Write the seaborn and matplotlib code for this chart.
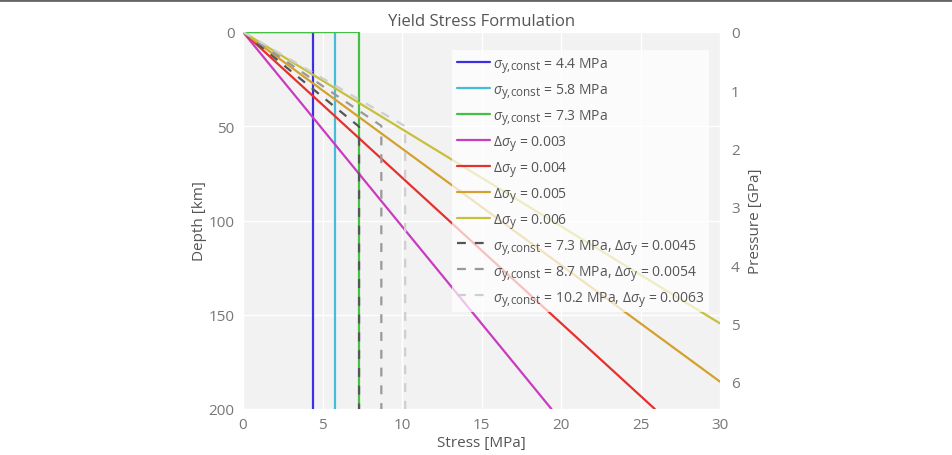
import matplotlib.pyplot as plt
from matplotlib.lines import Line2D
import matplotlib._mathtext as mt
import seaborn as sns

# constant yield stress [MPa]
const_labels = ["4.4", "5.8", "7.3"]
const_stress = [[0, 4.4, 4.4], [0, 5.8, 5.8], [0, 7.3, 7.3]]
const_depth = [[0, 0, 200], [0, 0, 200], [0, 0, 200]]

# pressure dependent yield stress
delta_labels = ["0.003", "0.004", "0.005", "0.006"]
delta_stress = [[0, 19.4], [0, 25.9], [0, 30], [0, 30]]
delta_depth = [[0, 200], [0, 200], [0, 185.5], [0, 154.6]]

# combined (capped) yield stress
comb_labels = [("7.3", "0.0045"), ("8.7", "0.0054"), ("10.2", "0.0063")]
comb_stress = [[0, 7.3, 7.3], [0, 8.7, 8.7], [0, 10.2, 10.2]]
comb_depth = [[0, 50.2, 200], [0, 49.8, 200], [0, 50.0, 200]]

pressure_max = 6.47  # GPa at 200 km
pressure_ticks = [0, 1, 2, 3, 4, 5, 6]

const_colors = ["#3d2fe0", "#45bcd8", "#44c044"]
delta_colors = ["#c93cc0", "#e5302e", "#d4a02e", "#c6c03c"]
comb_colors = ["#555555", "#999999", "#cfcfcf"]

# plotly-like subscripts are nearly full size
mt.SHRINK_FACTOR = 0.85

sns.set_theme(style="white")
plt.rcParams["font.family"] = ["Open Sans", "DejaVu Sans"]
plt.rcParams["mathtext.fontset"] = "custom"
plt.rcParams["mathtext.rm"] = "Open Sans"
plt.rcParams["mathtext.it"] = "Open Sans:italic"
plt.rcParams["mathtext.sf"] = "Open Sans"

txt = "#555555"
fig = plt.figure(figsize=(9.52, 4.56), dpi=100)
ax = fig.add_axes([243 / 952, 1 - 410 / 456, 477 / 952, 377 / 456])
ax.set_facecolor("#f2f2f2")

sig = r"$\sigma_{\mathrm{y{,}const}}$"
dsig = r"$\Delta\sigma_{\mathrm{y}}$"

for s, d, lab, c in zip(const_stress, const_depth, const_labels, const_colors):
    sns.lineplot(x=s, y=d, ax=ax, estimator=None, sort=False, color=c, lw=1.6,
                 label=f"{sig} = {lab} MPa")
for s, d, lab, c in zip(delta_stress, delta_depth, delta_labels, delta_colors):
    sns.lineplot(x=s, y=d, ax=ax, estimator=None, sort=False, color=c, lw=1.6,
                 label=f"{dsig} = {lab}")
for s, d, (a, b), c in zip(comb_stress, comb_depth, comb_labels, comb_colors):
    sns.lineplot(x=s, y=d, ax=ax, estimator=None, sort=False, color=c, lw=1.6,
                 linestyle=(0, (4, 4)), label=f"{sig} = {a} MPa, {dsig} = {b}")

ax.set_xlim(0, 30)
ax.set_ylim(200, 0)
ax.set_xticks([0, 5, 10, 15, 20, 25, 30])
ax.set_yticks([0, 50, 100, 150, 200])
ax.grid(True, color="white", lw=1)
ax.set_axisbelow(True)
for sp in ax.spines.values():
    sp.set_visible(False)
ax.tick_params(length=0, labelsize=11, labelcolor="#777777", pad=6)
ax.set_xlabel("Stress [MPa]", fontsize=11, color=txt, labelpad=2)
ax.set_ylabel("Depth [km]", fontsize=11, color=txt, labelpad=1)
ax.set_title("Yield Stress Formulation", fontsize=12, color=txt, pad=5)

ax2 = ax.twinx()
ax2.set_ylim(pressure_max, 0)
ax2.set_yticks(pressure_ticks)
for sp in ax2.spines.values():
    sp.set_visible(False)
ax2.tick_params(length=0, labelsize=11, labelcolor="#777777", pad=8)
ax2.set_ylabel("Pressure [GPa]", fontsize=11, color=txt, labelpad=6)

leg = ax.legend(loc="upper left", bbox_to_anchor=(0.423, 0.97), fontsize=10,
                frameon=True, framealpha=0.7, facecolor="white", edgecolor="none",
                fancybox=False, handlelength=2.4, handletextpad=0.25,
                labelspacing=0.5, borderpad=0.35)
for t in leg.get_texts():
    t.set_color(txt)
leg.set_zorder(10)

fig.add_artist(Line2D([0, 1], [0.998, 0.998], color="#666666", lw=2))

fig.savefig("out.png", dpi=100)
